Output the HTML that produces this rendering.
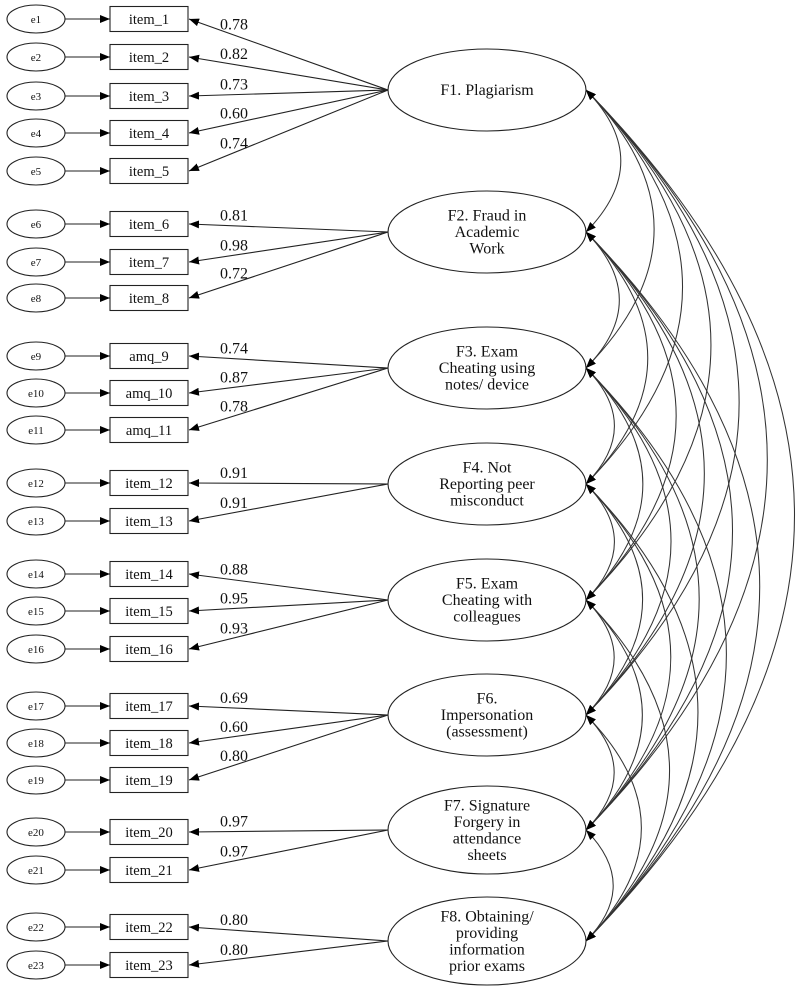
<!DOCTYPE html>
<html><head><meta charset="utf-8"><style>body{margin:0;background:#fff}svg{display:block}text{font-family:"Liberation Serif",serif;fill:#111}</style></head>
<body>
<svg id="s" width="800" height="996" viewBox="0 0 800 996" xmlns="http://www.w3.org/2000/svg">
<defs><marker id="a" markerWidth="10" markerHeight="8" refX="10" refY="4" orient="auto-start-reverse" markerUnits="userSpaceOnUse"><path d="M0,0 L10,4 L0,8 z" fill="#000"/></marker></defs>
<g id="g" stroke="#222" stroke-width="1.1" fill="none"></g>
<g id="t"></g>
</svg>
<script>
var g=document.getElementById('g'),t=document.getElementById('t'),NS='http://www.w3.org/2000/svg';
function el(p,n,a,txt){var e=document.createElementNS(NS,n);for(var k in a)e.setAttribute(k,a[k]);if(txt!==undefined)e.textContent=txt;p.appendChild(e);return e;}
var F=[[90,["F1. Plagiarism"]],[232,["F2. Fraud in","Academic","Work"]],[368,["F3. Exam","Cheating using","notes/ device"]],[484,["F4. Not","Reporting peer","misconduct"]],[600,["F5. Exam","Cheating with","colleagues"]],[715,["F6.","Impersonation","(assessment)"]],[830,["F7. Signature","Forgery in","attendance","sheets"]],[941,["F8. Obtaining/","providing","information","prior exams"]]];
var items=[
[19,"item_1",0,"0.78"],[57,"item_2",0,"0.82"],[96,"item_3",0,"0.73"],[133,"item_4",0,"0.60"],[171,"item_5",0,"0.74"],
[224,"item_6",1,"0.81"],[262,"item_7",1,"0.98"],[298,"item_8",1,"0.72"],
[356,"amq_9",2,"0.74"],[393,"amq_10",2,"0.87"],[430,"amq_11",2,"0.78"],
[483,"item_12",3,"0.91"],[521,"item_13",3,"0.91"],
[574,"item_14",4,"0.88"],[611,"item_15",4,"0.95"],[649,"item_16",4,"0.93"],
[706,"item_17",5,"0.69"],[743,"item_18",5,"0.60"],[780,"item_19",5,"0.80"],
[832,"item_20",6,"0.97"],[870,"item_21",6,"0.97"],
[927,"item_22",7,"0.80"],[965,"item_23",7,"0.80"]];
F.forEach(function(f,k){var ry=k>=6?44:41;el(g,'ellipse',{cx:487,cy:f[0],rx:99,ry:ry});var n=f[1].length,lh=16.5,y0=f[0]-(n-1)*lh/2+5;f[1].forEach(function(s,i){el(t,'text',{x:487,y:y0+i*lh,'text-anchor':'middle','font-size':16},s);});});
items.forEach(function(it,i){var y=it[0];
el(g,'ellipse',{cx:36,cy:y,rx:29,ry:14});
el(t,'text',{x:36,y:y+4,'text-anchor':'middle','font-size':11},'e'+(i+1));
el(g,'line',{x1:65,y1:y,x2:110,y2:y,'marker-end':'url(#a)'});
el(g,'rect',{x:110,y:y-12.5,width:78,height:25});
el(t,'text',{x:149,y:y+5,'text-anchor':'middle','font-size':14.5},it[1]);
var fy=F[it[2]][0];el(g,'line',{x1:388,y1:fy,x2:189,y2:y,'marker-end':'url(#a)'});
var ly=y+(fy-y)*(232-189)/(388-189);
el(t,'text',{x:234,y:ly-5,'text-anchor':'middle','font-size':16},it[3]);});
for(var i=0;i<8;i++)for(var j=i+1;j<8;j++){var y1=F[i][0],y2=F[j][0],x=586,c=x+0.49*(y2-y1);
el(g,'path',{d:'M'+x+','+y1+' Q'+c+','+((y1+y2)/2)+' '+x+','+y2,'marker-start':'url(#a)','marker-end':'url(#a)',stroke:'#333','stroke-width':1});}
</script>
</body></html>
